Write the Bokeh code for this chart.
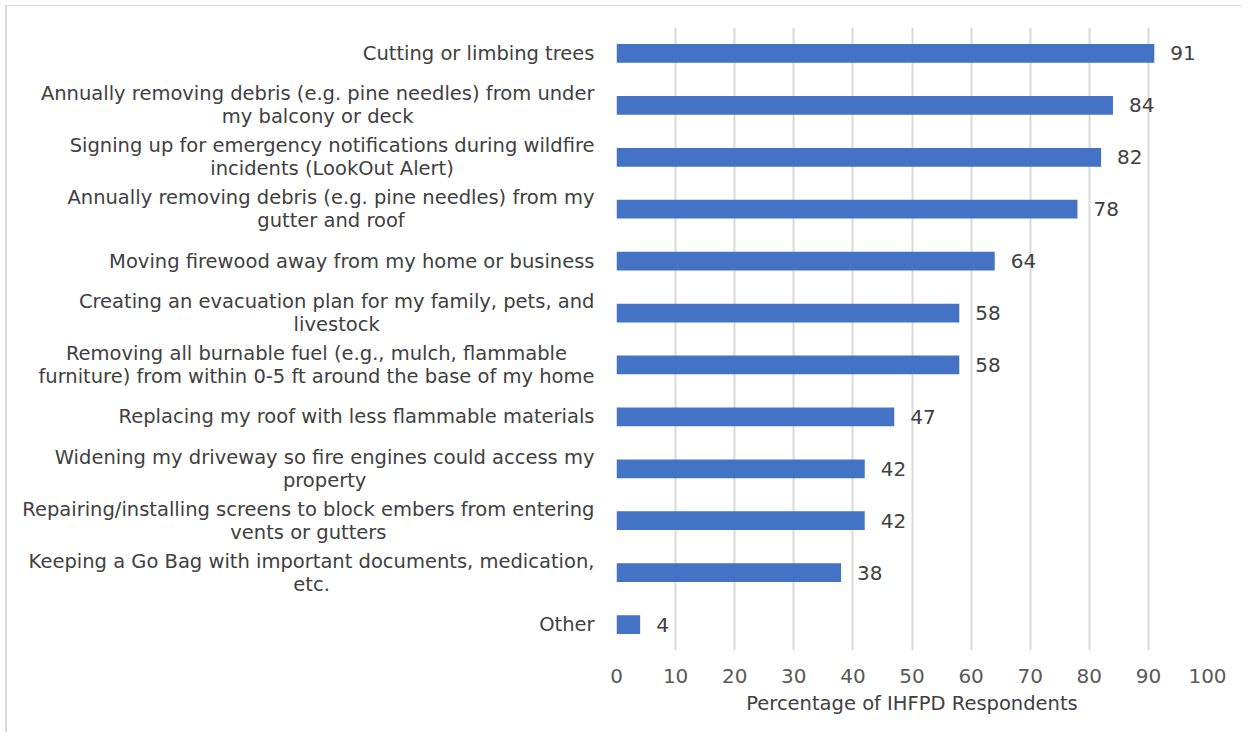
from bokeh.plotting import figure
from bokeh.models import FactorRange, Range1d, ColumnDataSource, FixedTicker
from bokeh.layouts import row
from bokeh.core.properties import value
from bokeh.embed import file_html
from bokeh.resources import INLINE

categories = [
    "Cutting or limbing trees",
    "Annually removing debris (e.g. pine needles) from under\nmy balcony or deck",
    "Signing up for emergency notifications during wildfire\nincidents (LookOut Alert)",
    "Annually removing debris (e.g. pine needles) from my\ngutter and roof",
    "Moving firewood away from my home or business",
    "Creating an evacuation plan for my family, pets, and\nlivestock",
    "Removing all burnable fuel (e.g., mulch, flammable\nfurniture) from within 0-5 ft around the base of my home",
    "Replacing my roof with less flammable materials",
    "Widening my driveway so fire engines could access my\nproperty",
    "Repairing/installing screens to block embers from entering\nvents or gutters",
    "Keeping a Go Bag with important documents, medication,\netc.",
    "Other",
]
percentages = [91, 84, 82, 78, 64, 58, 58, 47, 42, 42, 38, 4]
x_ticks = [0, 10, 20, 30, 40, 50, 60, 70, 80, 90, 100]
x_title = "Percentage of IHFPD Respondents"

FONT = "DejaVu Sans"
BAR = "#4472C4"
TXT = "#404040"

src = ColumnDataSource(dict(
    cat=categories,
    val=percentages,
    lab=[str(v) for v in percentages],
    lx=[1.0] * len(categories),
))

H = 726
TOP = 21
BOTTOM = 82

y_range = FactorRange(*list(reversed(categories)))

# label panel
lp = figure(width=596, height=H, y_range=y_range, x_range=Range1d(0, 1),
            output_backend="svg", toolbar_location=None,
            min_border_left=0, min_border_right=0,
            min_border_top=TOP, min_border_bottom=BOTTOM)
lp.axis.visible = False
lp.grid.visible = False
lp.outline_line_color = None
lp.text(x="lx", y="cat", text="cat", source=src,
        anchor=value("center_right"), text_align="center",
        x_offset=-9, text_font=value(FONT), text_font_size="19.5px",
        text_color=TXT, text_line_height=1.0)

# chart panel
p = figure(width=638, height=H, y_range=y_range, x_range=Range1d(0, 100),
           output_backend="svg", toolbar_location=None,
           min_border_left=13, min_border_right=34,
           min_border_top=TOP, min_border_bottom=BOTTOM)
p.hbar(y="cat", right="val", left=0, height=0.36, source=src,
       fill_color=BAR, line_color=None)
p.text(x="val", y="cat", text="lab", source=src, x_offset=16,
       text_align="left", text_baseline="middle",
       text_font=value(FONT), text_font_size="20px", text_color=TXT)

p.yaxis.visible = False
p.ygrid.visible = False
p.xgrid.grid_line_color = "#d9d9d9"
p.xgrid.grid_line_width = 2
p.xaxis.ticker = FixedTicker(ticks=x_ticks)
p.xaxis.axis_line_color = None
p.xaxis.major_tick_line_color = None
p.xaxis.minor_tick_line_color = None
p.xaxis.major_label_standoff = 12
p.xaxis.major_label_text_font = FONT
p.xaxis.major_label_text_font_size = "20px"
p.xaxis.major_label_text_color = "#595959"
p.xaxis.axis_label = x_title
p.xaxis.axis_label_text_font = FONT
p.xaxis.axis_label_text_font_size = "19.5px"
p.xaxis.axis_label_text_font_style = "normal"
p.xaxis.axis_label_text_color = TXT
p.xaxis.axis_label_standoff = 6
p.outline_line_color = None

layout = row(lp, p, styles={"border-top": "1px solid #d9d9d9",
                            "border-left": "2px solid #d9d9d9",
                            "margin": "5px 0 0 5px"})

open("out.html", "w").write(file_html(layout, INLINE))
